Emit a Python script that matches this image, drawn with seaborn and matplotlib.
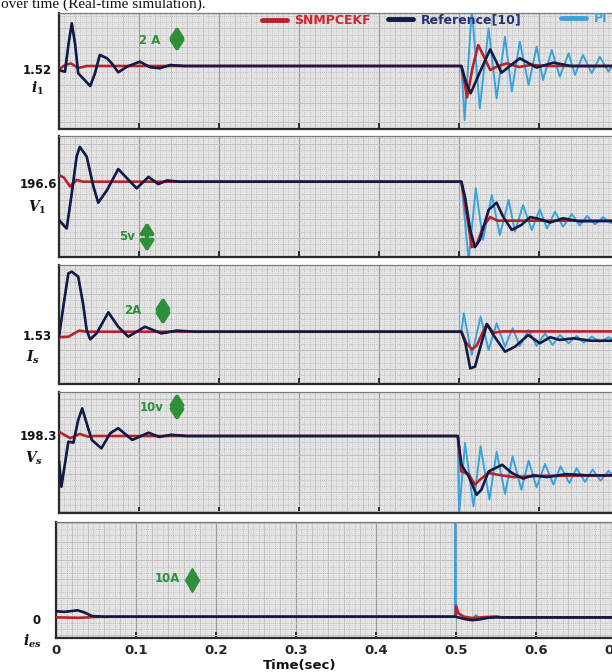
import numpy as np
import pandas as pd
import matplotlib
matplotlib.use('Agg')
import matplotlib.pyplot as plt
import seaborn as sns
from matplotlib.lines import Line2D
from matplotlib.ticker import MultipleLocator, FuncFormatter

# --- Data (time in s) ---
# i1 (A)
i1_ref_start = [(0.0, 1.23), (0.0075, 1.11), (0.012, 3.14), (0.016, 4.57), (0.020, 3.14), (0.024, 1.0),
                (0.030, 0.64), (0.039, 0.09), (0.045, 1.0), (0.051, 2.31), (0.060, 2.07), (0.066, 1.71),
                (0.074, 1.07), (0.085, 1.47), (0.101, 1.83), (0.114, 1.43), (0.126, 1.36), (0.139, 1.59),
                (0.156, 1.52)]
i1_ref_end = [(0.503, 1.52), (0.509, 0.3), (0.5146, -0.43), (0.527, 1.2), (0.539, 2.71), (0.546, 1.9),
              (0.553, 1.04), (0.576, 2.07), (0.597, 1.41), (0.618, 1.76), (0.64, 1.52), (0.75, 1.52)]
i1_red_start = [(0.0, 1.3), (0.008, 1.6), (0.015, 1.7), (0.024, 1.38), (0.035, 1.52)]
i1_red_end = [(0.503, 1.52), (0.507, 0.3), (0.510, -0.72), (0.517, 1.4), (0.524, 3.02), (0.531, 2.2),
              (0.539, 1.23), (0.548, 1.5), (0.56, 1.71), (0.575, 1.45), (0.59, 1.6), (0.61, 1.52), (0.75, 1.52)]
i1_pi_end = [(0.503, 1.52), (0.507, -2.34), (0.516, 5.6), (0.526, -1.50), (0.537, 4.21), (0.547, -0.79),
             (0.5575, 3.61), (0.566, -0.31), (0.576, 3.26), (0.587, 0.16), (0.597, 2.9), (0.605, 0.52),
             (0.616, 2.66), (0.626, 0.76), (0.637, 2.43), (0.645, 0.88), (0.655, 2.31), (0.666, 1.0),
             (0.676, 2.18), (0.687, 1.11), (0.697, 2.1)]

# V1 (V)
v1_ref_start = [(0.0, 190.2), (0.0096, 188.8), (0.016, 194.7), (0.022, 200.8), (0.026, 202.4), (0.0346, 200.8),
                (0.043, 195.8), (0.049, 193.1), (0.060, 195.2), (0.074, 198.7), (0.087, 196.9), (0.097, 195.5),
                (0.112, 197.4), (0.124, 196.2), (0.135, 196.8), (0.15, 196.6)]
v1_ref_end = [(0.503, 196.6), (0.5075, 194.1), (0.514, 188.55), (0.520, 185.7), (0.526, 186.9), (0.537, 191.9),
              (0.547, 193.1), (0.555, 190.8), (0.566, 188.55), (0.578, 189.4), (0.589, 190.7), (0.60, 190.4),
              (0.614, 189.8), (0.630, 190.5), (0.65, 190.0), (0.75, 190.1)]
v1_red_start = [(0.0, 197.7), (0.006, 197.3), (0.0138, 195.8), (0.022, 196.9), (0.03, 196.6)]
v1_red_end = [(0.503, 196.6), (0.510, 190.8), (0.516, 185.7), (0.522, 186.05), (0.530, 189.1), (0.539, 190.7),
              (0.548, 190.1), (0.75, 190.1)]
v1_pi_end = [(0.503, 196.6), (0.512, 183.5), (0.521, 195.5), (0.530, 186.9), (0.541, 194.4), (0.551, 187.7),
             (0.562, 193.55), (0.570, 188.3), (0.580, 192.7), (0.591, 188.55), (0.601, 192.0), (0.610, 188.8),
             (0.620, 191.6), (0.630, 189.1), (0.641, 191.2), (0.651, 189.3), (0.660, 190.9), (0.670, 189.5),
             (0.680, 190.7), (0.690, 189.7), (0.70, 190.6)]

# Is (A)
is_ref_start = [(0.0, 1.2), (0.006, 3.42), (0.0117, 5.42), (0.016, 5.53), (0.024, 5.20), (0.030, 3.42),
                (0.0346, 1.64), (0.039, 1.02), (0.047, 1.42), (0.0617, 2.82), (0.074, 1.86), (0.0866, 1.2),
                (0.1075, 1.86), (0.128, 1.42), (0.147, 1.6), (0.17, 1.53)]
is_ref_end = [(0.503, 1.53), (0.508, 0.76), (0.514, -0.91), (0.520, -0.8), (0.528, 0.76), (0.535, 2.04),
              (0.543, 1.31), (0.5575, 0.2), (0.570, 0.53), (0.5866, 1.31), (0.601, 0.76), (0.614, 1.16),
              (0.626, 0.98), (0.643, 1.09), (0.664, 0.93), (0.75, 0.93)]
is_red_start = [(0.0, 1.16), (0.012, 1.2), (0.025, 1.6), (0.035, 1.53)]
is_red_end = [(0.503, 1.53), (0.509, 0.8), (0.516, 0.36), (0.522, 0.6), (0.5346, 2.04), (0.543, 1.46),
              (0.555, 1.55), (0.75, 1.55)]
is_pi_end = [(0.503, 1.53), (0.506, 2.76), (0.516, -0.02), (0.527, 2.53), (0.537, 0.31), (0.547, 2.09),
             (0.5575, 0.53), (0.567, 1.76), (0.576, 0.58), (0.587, 1.64), (0.597, 0.58), (0.6075, 1.42),
             (0.617, 0.64), (0.626, 1.31), (0.637, 0.76), (0.647, 1.24), (0.656, 0.8), (0.666, 1.2),
             (0.676, 0.86), (0.687, 1.16), (0.697, 0.9)]

# Vs (V)
vs_ref_start = [(0.0, 190.0), (0.003, 181.4), (0.0117, 196.4), (0.018, 196.1), (0.024, 203.6), (0.029, 207.5),
                (0.0346, 202.5), (0.041, 197.0), (0.053, 194.2), (0.064, 199.2), (0.074, 200.9), (0.0915, 197.0),
                (0.112, 199.4), (0.125, 198.0), (0.14, 198.7), (0.16, 198.3)]
vs_ref_end = [(0.4985, 198.3), (0.503, 188.7), (0.512, 184.9), (0.522, 178.7), (0.528, 180.4), (0.537, 186.5),
              (0.554, 188.7), (0.566, 186.0), (0.580, 184.1), (0.593, 185.2), (0.61, 184.6), (0.634, 185.6),
              (0.66, 185.2), (0.75, 185.2)]
vs_red_start = [(0.0, 199.7), (0.014, 197.6), (0.026, 199.0), (0.036, 198.1), (0.045, 198.3)]
vs_red_end = [(0.4985, 198.3), (0.503, 186.5), (0.512, 185.6), (0.520, 182.1), (0.526, 183.7), (0.537, 186.0),
              (0.548, 185.4), (0.568, 184.6), (0.60, 185.0), (0.75, 185.2)]
vs_pi_end = [(0.4985, 198.3), (0.5, 172.0), (0.5075, 196.0), (0.518, 174.9), (0.527, 194.9), (0.538, 177.1),
             (0.547, 193.0), (0.5575, 179.0), (0.567, 191.5), (0.578, 180.4), (0.587, 190.1), (0.597, 181.2),
             (0.6075, 189.0), (0.618, 182.1), (0.627, 188.2), (0.638, 182.6), (0.647, 187.6), (0.6575, 183.0),
             (0.667, 187.1), (0.677, 183.4), (0.687, 186.7), (0.697, 183.7)]

# ies (A)
ies_ref_start = [(0.0, 2.5), (0.01, 2.2), (0.02, 2.6), (0.027, 2.9), (0.035, 2.0), (0.045, 0.3), (0.06, 0.0)]
ies_ref_end = [(0.4995, 0.0), (0.51, -1.0), (0.52, -1.6), (0.53, -1.2), (0.54, -0.5), (0.55, -0.3), (0.75, -0.3)]
ies_red_start = [(0.0, -0.3), (0.03, -0.5), (0.05, -0.1), (0.07, 0.0)]
ies_red_end = [(0.4995, 0.0), (0.5, 5.0), (0.503, 1.5), (0.51, 0.0), (0.52, -0.6), (0.535, -0.2), (0.55, 0.1),
               (0.56, -0.4), (0.75, -0.4)]
ies_pi_end = [(0.4985, 0.0), (0.499, 45.0), (0.5, 0.0), (0.51, -0.8), (0.52, -1.4), (0.525, 0.8), (0.53, -1.0),
              (0.545, -0.4), (0.75, -0.3)]

level_labels = ['1.52', '196.6', '1.53', '198.3', '0']
levels = [1.52, 196.6, 1.53, 198.3, 0.0]
symbols = [r'$i_1$', r'$V_1$', r'$I_s$', r'$V_s$', r'$i_{es}$']
scale_notes = ['2 A', '5v', '2A', '10v', '10A']
series_names = ['SNMPCEKF', 'Reference[10]', 'PI']
time_ticks = [0, 0.1, 0.2, 0.3, 0.4, 0.5, 0.6, 0.7]

# --- Styling / layout (pixels of a 612x672 canvas) ---
W, H = 612, 672
RED, NAVY, PI_BLUE = '#b8232a', '#121a45', '#3aa2dc'
GREEN = '#2e8f3a'
# (top px, bottom px, left px, level px, px per unit)
layout = [(13, 129, 59, 66.0, 14.0),
          (136, 257, 59, 181.7, 6.0),
          (265, 384, 59, 331.7, 15.0),
          (392, 513, 59, 436.0, 3.0),
          (522, 638, 56, 616.7, 2.2)]
label_pos = [((52, 70), (37, 88)), ((57, 185), (37, 207)), ((52, 336), (33, 357)),
             ((57, 437), (34, 458)), ((41, 621), (32, 641))]
# text centre, marker (x, top, bottom); the last one is a diamond
note_pos = [((150, 40), (177, 26, 52)), ((127, 237), (147, 222, 252)),
            ((133, 311), (163, 297, 325)), ((152, 408), (177, 393, 421)),
            ((167, 579), (192, 568, 591))]

series = [
    (i1_ref_start + i1_ref_end, i1_red_start + i1_red_end, i1_ref_start + i1_pi_end),
    (v1_ref_start + v1_ref_end, v1_red_start + v1_red_end, v1_ref_start + v1_pi_end),
    (is_ref_start + is_ref_end, is_red_start + is_red_end, is_ref_start + is_pi_end),
    (vs_ref_start + vs_ref_end, vs_red_start + vs_red_end, vs_ref_start + vs_pi_end),
    (ies_ref_start + ies_ref_end, ies_red_start + ies_red_end, ies_ref_start + ies_pi_end),
]

sns.set_theme(style='ticks')
plt.rcParams['font.family'] = ['DejaVu Sans']
plt.rcParams['mathtext.fontset'] = 'custom'
plt.rcParams['mathtext.it'] = 'DejaVu Serif:italic:bold'
plt.rcParams['mathtext.rm'] = 'DejaVu Serif:bold'


def fx(px):
    return px / W


def fy(py):
    return 1 - py / H


def draw_line(ax, pts, color, lw, z):
    df = pd.DataFrame(pts, columns=['time', 'value'])
    sns.lineplot(data=df, x='time', y='value', ax=ax, color=color, linewidth=lw,
                 sort=False, estimator=None, zorder=z, solid_joinstyle='round')


fig = plt.figure(figsize=(W / 100, H / 100), dpi=100)
XMAX = 0.75
axes = []
for k, (top, bottom, left, lvl_px, ppu) in enumerate(layout):
    ax = fig.add_axes([fx(left), fy(bottom), XMAX * 800 / W, (bottom - top) / H])
    ax.set_facecolor('#e3e3e3')
    lvl = levels[k]
    ax.set_xlim(0, XMAX)
    ax.set_ylim(lvl - (bottom - lvl_px) / ppu, lvl + (lvl_px - top) / ppu)

    # grid: solid every 0.02 s / ~19 px, dotted in between, darker every 0.1 s
    ax.xaxis.set_major_locator(MultipleLocator(0.1))
    ax.xaxis.set_minor_locator(MultipleLocator(0.02 / 3))
    sp = 18.75 / ppu
    ax.yaxis.set_major_locator(MultipleLocator(sp, offset=lvl % sp))
    ax.yaxis.set_minor_locator(MultipleLocator(sp / 3, offset=lvl % (sp / 3)))
    ax.grid(which='major', axis='x', color='#9c9c9c', lw=0.9)
    ax.grid(which='minor', color='#b5b5b5', lw=0.6, ls=(0, (1, 1.5)))
    ax.grid(which='major', axis='y', color='#c2c2c2', lw=0.7)
    for xv in np.arange(0.02, XMAX, 0.02):
        if abs(xv / 0.1 - round(xv / 0.1)) > 1e-6:
            ax.axvline(xv, color='#c2c2c2', lw=0.6, zorder=0.6)
    ax.set_axisbelow(True)

    ax.tick_params(axis='y', which='both', length=0, labelleft=False)
    ax.tick_params(axis='x', which='major', direction='in', length=4, width=1.3, color='#222222',
                   labelbottom=(k == 4), labelsize=9.5, pad=4)
    ax.tick_params(axis='x', which='minor', length=0)
    for s in ['left', 'bottom']:
        ax.spines[s].set_color('#2a2a2a')
        ax.spines[s].set_linewidth(1.6)
    for s in ['top', 'right']:
        ax.spines[s].set_color('#7a7a7a')
        ax.spines[s].set_linewidth(0.9)

    ref, red, pi = series[k]
    draw_line(ax, pi, PI_BLUE, 1.4, 2)
    draw_line(ax, red, RED, 1.9, 3)
    draw_line(ax, ref, NAVY, 1.9, 4)
    ax.set_xlabel('')
    ax.set_ylabel('')

    # level value and signal name on the left
    (nx, ny), (sx, sy) = label_pos[k]
    fig.text(fx(nx), fy(ny), level_labels[k], ha='right', va='center', fontsize=8.5, fontweight='bold',
             color='#111111')
    fig.text(fx(sx), fy(sy), symbols[k], ha='center', va='center', fontsize=10, color='#111111')

    # green scale marker
    (tx, ty), (axx, ay1, ay2) = note_pos[k]
    fig.text(fx(tx), fy(ty), scale_notes[k], ha='center', va='center', fontsize=8.5,
             fontweight='bold', color=GREEN)
    if k < 4:
        ax.annotate('', xy=(fx(axx), fy(ay1)), xytext=(fx(axx), fy(ay2)), xycoords='figure fraction',
                    textcoords='figure fraction',
                    arrowprops=dict(arrowstyle='<|-|>,head_length=0.5,head_width=0.32', color=GREEN,
                                    lw=3, shrinkA=0, shrinkB=0))
    else:
        fig.add_artist(Line2D([fx(axx)], [fy((ay1 + ay2) / 2)], marker='d', markersize=(ay2 - ay1) * 0.55,
                              color=GREEN, transform=fig.transFigure))
    axes.append(ax)

axes[-1].set_xticks(time_ticks)
axes[-1].xaxis.set_major_formatter(FuncFormatter(lambda v, p: '0' if v == 0 else f'{v:.1f}'))
for lab in axes[-1].get_xticklabels():
    lab.set_fontweight('bold')

fig.text(fx(300), fy(665), 'Time(sec)', ha='center', va='center', fontsize=9.5, fontweight='bold',
         color='#111111')
fig.text(fx(1), fy(8), 'over time (Real-time simulation).', ha='left', va='baseline', fontsize=11,
         family='Liberation Serif', color='#111111')

# legend: three separate entries across the top of the first panel
leg_spec = [(series_names[0], RED, '#d8232a', 262, 21),
            (series_names[1], NAVY, '#26307a', 388, 20),
            (series_names[2], PI_BLUE, '#3fa6e0', 561, 19)]
for name, lc, tc, lx, ly in leg_spec:
    fig.legend(handles=[Line2D([], [], color=lc, lw=3.5)], labels=[name], loc='center left',
               bbox_to_anchor=(fx(lx), fy(ly)), frameon=False, handlelength=2.0, handletextpad=0.6,
               borderpad=0, borderaxespad=0, prop=dict(weight='bold', size=9), labelcolor=tc)

fig.savefig('out.png', dpi=100)
